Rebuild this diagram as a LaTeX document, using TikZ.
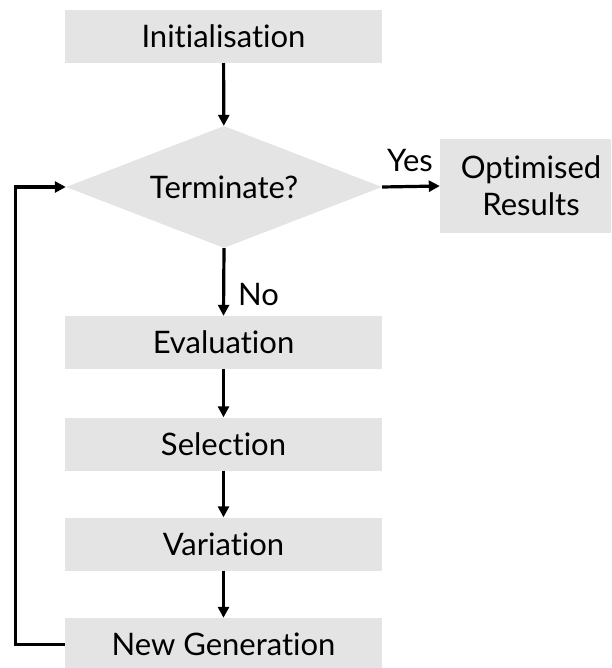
\documentclass[tikz,border=0pt]{standalone}
\usepackage{fontspec}
\setmainfont{Lato}[Ligatures={NoCommon}]
\usetikzlibrary{shapes.geometric,arrows.meta}
\definecolor{boxfill}{RGB}{228,228,228}
\tikzset{
  stage/.style={rectangle, fill=boxfill, draw=none, inner sep=0pt,
    minimum width=317pt, minimum height=53pt, font=\flowfont},
  decision/.style={diamond, fill=boxfill, draw=none, inner sep=0pt,
    shape aspect=2.6, minimum width=316pt, minimum height=122pt, font=\flowfont},
  result/.style={rectangle, fill=boxfill, draw=none, inner sep=0pt,
    minimum width=182pt, minimum height=93pt, align=center, font=\flowfont},
  flow/.style={line width=3.2pt, line join=miter,
    -{Triangle[length=11pt,width=11pt]}},
  tag/.style={inner sep=0pt, font=\flowfont}
}
\newcommand{\flowfont}{\fontsize{31}{37}\selectfont}
\begin{document}
\begin{tikzpicture}[x=1pt,y=-1pt]
  \useasboundingbox (0,0) rectangle (611,668);
  \clip (0,0) rectangle (611,668);

  % process stages
  \node[stage] (init) at (223.5,36.5) {Initialisation};
  \node[decision] (term) at (224,187) {Terminate?};
  \node[result] (opt) at (531,186) {Optimised\\Results};
  \node[stage] (eval) at (223.5,342.5) {Evaluation};
  \node[stage] (sel) at (223.5,444) {Selection};
  \node[stage] (var) at (223.5,544) {Variation};
  \node[stage] (newgen) at (223.5,644.5) {New Generation};

  % connectors
  \draw[flow] (init) -- (term);
  \draw[flow] (term.east) -- (opt.west);
  \draw[flow] (term.south) -- (eval.north);
  \draw[flow] (eval) -- (sel);
  \draw[flow] (sel) -- (var);
  \draw[flow] (var) -- (newgen);

  % loop back to the decision
  \coordinate (loop) at (15.5,644.5);
  \draw[flow] (newgen.west) -- (loop) |- (term.west);

  % branch labels
  \node[tag, anchor=base] (yes) at (410,172) {Yes};
  \node[tag, anchor=west] (no) at (238,295) {No};
\end{tikzpicture}
\end{document}
